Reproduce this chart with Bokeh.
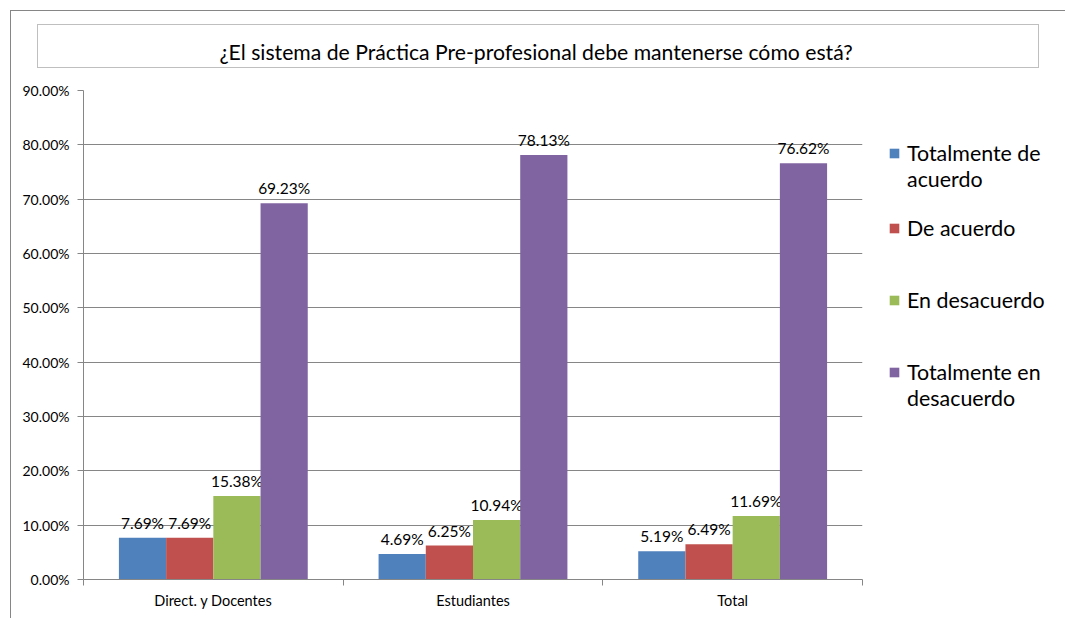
from bokeh.plotting import figure
from bokeh.layouts import row
from bokeh.models import (ColumnDataSource, Range1d, FixedTicker, NumeralTickFormatter,
                          Legend, LegendItem, InlineStyleSheet)
from bokeh.embed import file_html
from bokeh.resources import INLINE
from bokeh.core.properties import value

categories = ["Direct. y Docentes", "Estudiantes", "Total"]
series_names = ["Totalmente de acuerdo", "De acuerdo", "En desacuerdo", "Totalmente en desacuerdo"]
# legend text broken into lines as in the original (None = continuation / spacer row)
legend_rows = [("Totalmente de", 0), ("acuerdo", None), (" ", None), ("De acuerdo", 1),
               (" ", None), (" ", None), ("En desacuerdo", 2), (" ", None), (" ", None),
               ("Totalmente en", 3), ("desacuerdo", None)]
totalmente_de_acuerdo = [0.0769, 0.0469, 0.0519]
de_acuerdo = [0.0769, 0.0625, 0.0649]
en_desacuerdo = [0.1538, 0.1094, 0.1169]
totalmente_en_desacuerdo = [0.6923, 0.7813, 0.7662]
series_values = [totalmente_de_acuerdo, de_acuerdo, en_desacuerdo, totalmente_en_desacuerdo]
colors = ["#4F81BD", "#C0504D", "#9BBB59", "#8064A2"]
y_ticks = [0.0, 0.1, 0.2, 0.3, 0.4, 0.5, 0.6, 0.7, 0.8, 0.9]
title_text = "¿El sistema de Práctica Pre-profesional debe mantenerse cómo está?"

FONT = "Lato"
GRAY = "#868686"
H = 618
W_MAIN, W_LEG = 870, 195

p = figure(width=W_MAIN, height=H, output_backend="svg", toolbar_location=None,
           x_range=Range1d(-0.5, len(categories) - 0.5), y_range=Range1d(0, 0.9),
           min_border_left=83, min_border_right=8, min_border_top=90, min_border_bottom=39)
p.outline_line_color = None
p.background_fill_color = "white"
p.border_fill_color = "white"

# title (box drawn by stylesheet on the layout)
p.title.text = title_text
p.title.align = "left"
p.title.offset = 136
p.title.standoff = 51
p.title.text_font = FONT
p.title.text_font_size = "21.2px"
p.title.text_font_style = "normal"
p.title.text_color = "#000000"

n = len(series_values)
bar_w = 1 / 5.5
sources = []
for k, (vals, col) in enumerate(zip(series_values, colors)):
    xs = [i + (k - (n - 1) / 2) * bar_w for i in range(len(categories))]
    src = ColumnDataSource(dict(x=xs, top=vals, txt=[f"{v*100:.2f}%" for v in vals]))
    sources.append(src)
    p.vbar(x="x", top="top", width=bar_w, source=src, fill_color=col, line_color=None)
    p.text(x="x", y="top", text="txt", source=src, text_align="center", text_baseline="middle",
           y_offset=-15, text_font=value(FONT), text_font_size="15.5px", text_color="#000000")

# axes
yax = p.yaxis[0]
yax.ticker = FixedTicker(ticks=y_ticks)
yax.formatter = NumeralTickFormatter(format="0.00%")
yax.axis_line_color = GRAY
yax.major_tick_line_color = GRAY
yax.major_tick_out = 6
yax.major_tick_in = 0
yax.minor_tick_line_color = None
yax.major_label_standoff = 8
yax.major_label_text_font = FONT
yax.major_label_text_font_size = "14px"
yax.major_label_text_color = "#000000"

xax = p.xaxis[0]
xax.ticker = FixedTicker(ticks=list(range(len(categories))),
                         minor_ticks=[i - 0.5 for i in range(len(categories) + 1)])
xax.major_label_overrides = {i: c for i, c in enumerate(categories)}
xax.axis_line_color = GRAY
xax.major_tick_line_color = None
xax.major_tick_out = 0
xax.major_tick_in = 0
xax.minor_tick_line_color = GRAY
xax.minor_tick_out = 6
xax.minor_tick_in = 0
xax.major_label_standoff = 6
xax.major_label_text_font = FONT
xax.major_label_text_font_size = "14.5px"
xax.major_label_text_color = "#000000"

p.xgrid.visible = False
p.ygrid.grid_line_color = GRAY
p.ygrid.grid_line_width = 1

# legend panel (separate figure so the legend is not clipped by the bar chart's frame)
pl = figure(width=W_LEG, height=H, output_backend="svg", toolbar_location=None,
            x_axis_location=None, y_axis_location=None, min_border=0,
            x_range=Range1d(-0.5, len(categories) - 0.5), y_range=Range1d(0, 0.9))
pl.outline_line_color = None
pl.xgrid.visible = False
pl.ygrid.visible = False
pl.background_fill_color = "white"
pl.border_fill_color = "white"
# same series, hidden here: they only supply the legend swatches
swatches = [pl.vbar(x="x", top="top", width=bar_w, source=src, fill_color=c,
                    line_color=None, visible=False) for src, c in zip(sources, colors)]
blank = pl.vbar(x=[], top=[], width=bar_w, fill_alpha=0, line_alpha=0)
items = [LegendItem(label=lab, renderers=[swatches[idx] if idx is not None else blank])
         for lab, idx in legend_rows]
legend = Legend(items=items, location=(18, 168), padding=0, margin=0,
                border_line_color=None, background_fill_alpha=0, inactive_fill_alpha=0,
                glyph_width=12, glyph_height=12, label_standoff=7, spacing=0,
                label_height=23, label_text_line_height=1.0,
                label_text_font=FONT, label_text_font_size="21.4px",
                label_text_color="#000000", click_policy="none")
pl.add_layout(legend, "center")

layout = row(p, pl, spacing=0)
layout.stylesheets = [InlineStyleSheet(css="""
:host { position: relative; }
:host::before { content: ''; position: absolute; left: 37px; top: 24px; width: 1000px; height: 42px;
  border: 1px solid #BFBFBF; z-index: 10; pointer-events: none; }
:host::after { content: ''; position: absolute; left: 10px; top: 10px; right: 0px; bottom: 0px;
  border-left: 1px solid #868686; border-top: 1px solid #868686; z-index: 10; pointer-events: none; }
""")]

open("out.html", "w").write(file_html(layout, INLINE))
